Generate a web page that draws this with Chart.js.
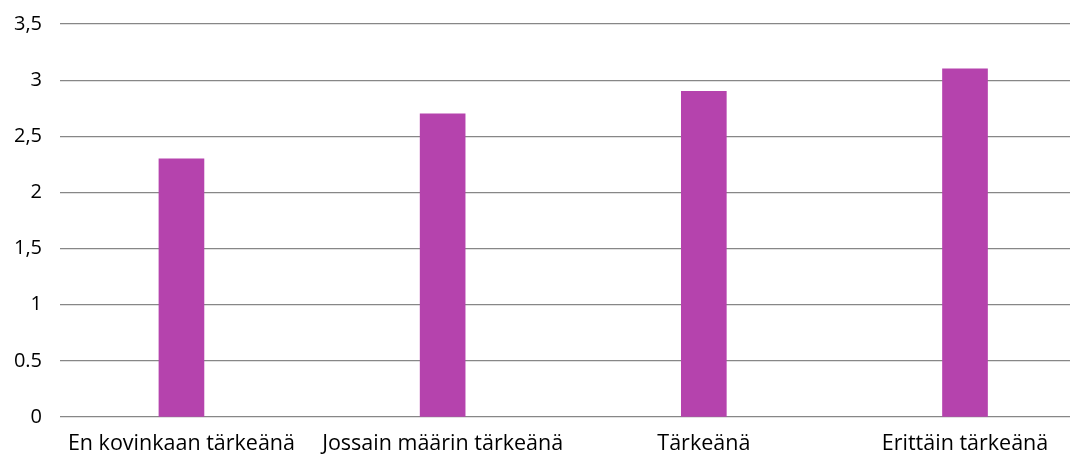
<!DOCTYPE html>
<html>
<head>
<meta charset="utf-8">
<script src="https://cdn.jsdelivr.net/npm/chart.js@4"></script>
<style>
  html, body { margin: 0; padding: 0; background: #fff; }
  #wrap { width: 1075px; height: 459px; }
</style>
</head>
<body>
<div id="wrap"><canvas id="chart"></canvas></div>
<script>
// chart data
const categories = ['En kovinkaan tärkeänä', 'Jossain määrin tärkeänä', 'Tärkeänä', 'Erittäin tärkeänä'];
const values = [2.3, 2.7, 2.9, 3.1];
const yTickValues = [0, 0.5, 1, 1.5, 2, 2.5, 3, 3.5];
const yTickLabels = ['0', '0.5', '1', '1,5', '2', '2,5', '3', '3,5'];

const FONT = "'Open Sans', sans-serif";

const ctx = document.getElementById('chart').getContext('2d');

new Chart(ctx, {
    type: 'bar',
    data: {
        datasets: [{
            data: values.map((v, i) => ({ x: i, y: v })),
            backgroundColor: '#B543AD',
            borderWidth: 0,
            barThickness: 45
        }]
    },
    options: {
        responsive: true,
        maintainAspectRatio: false,
        animation: false,
        layout: { padding: { top: 24, right: 5, left: 0, bottom: 0 } },
        plugins: {
            legend: { display: false },
            tooltip: { enabled: false }
        },
        scales: {
            x: {
                type: 'linear',
                offset: false,
                min: -0.465,
                max: 3.402,
                afterBuildTicks: scale => {
                    scale.ticks = categories.map((c, i) => ({ value: i }));
                },
                afterFit: scale => { scale.height = 42; },
                grid: { display: false, drawTicks: false },
                border: { display: false },
                ticks: {
                    autoSkip: false,
                    maxRotation: 0,
                    padding: 14,
                    color: '#000',
                    font: { family: FONT, size: 21.5 },
                    callback: v => categories[v]
                }
            },
            y: {
                min: 0,
                max: 3.5,
                afterBuildTicks: scale => {
                    scale.ticks = yTickValues.map(v => ({ value: v }));
                },
                afterFit: scale => {
                    scale.width = 60;
                    scale.paddingTop = 0;
                    scale.paddingBottom = 0;
                },
                grid: { color: '#878787', lineWidth: 1.2, drawTicks: false },
                border: { display: false },
                ticks: {
                    padding: 18,
                    color: '#000',
                    font: { family: FONT, size: 20 },
                    callback: v => yTickLabels[yTickValues.indexOf(v)]
                }
            }
        }
    }
});
</script>
</body>
</html>
